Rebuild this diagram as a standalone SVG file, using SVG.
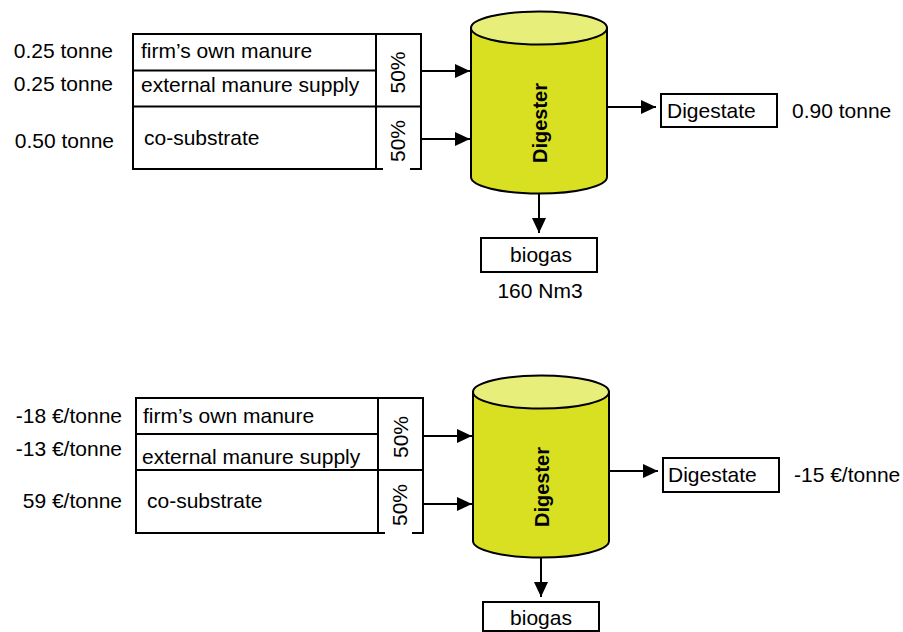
<svg xmlns="http://www.w3.org/2000/svg" width="903" height="632" viewBox="0 0 903 632">
<style>
.t{font-family:"Liberation Sans",Arial,sans-serif;font-size:21px;fill:#000}
.e{text-anchor:end}
.m{text-anchor:middle}
.b{fill:#fff;stroke:#000;stroke-width:2}
.ln{stroke:#000;stroke-width:2;fill:none}
.cb{fill:#D8E021;stroke:#000;stroke-width:2}
.ct{fill:#E8EE7A;stroke:#000;stroke-width:2}
.dg{font-family:"Liberation Sans",Arial,sans-serif;font-size:20px;font-weight:bold;text-anchor:middle;fill:#000}
.ar{stroke:#000;stroke-width:2;fill:none;marker-end:url(#ah)}
</style>
<defs>
<marker id="ah" markerUnits="userSpaceOnUse" markerWidth="16" markerHeight="15" refX="15" refY="7" orient="auto">
<path d="M0,0 L15,7 L0,14 z" fill="#000"/>
</marker>
</defs>
<rect width="903" height="632" fill="#fff"/>

<!-- TOP SECTION -->
<g id="inputs-top">
<rect class="b" x="133" y="34" width="288" height="135"/>
<line class="ln" x1="376" y1="34" x2="376" y2="169"/>
<line class="ln" x1="133" y1="70.5" x2="376" y2="70.5"/>
<line class="ln" x1="133" y1="106.5" x2="420" y2="106.5"/>
<rect x="383" y="112" width="27" height="58" fill="#fff"/>
<text class="t e" x="113" y="58">0.25 tonne</text>
<text class="t e" x="113" y="91">0.25 tonne</text>
<text class="t e" x="114" y="148">0.50 tonne</text>
<text class="t" x="141" y="58">firm’s own manure</text>
<text class="t" x="141" y="92">external manure supply</text>
<text class="t" x="144" y="145">co-substrate</text>
<text class="t m" transform="translate(405,72.5) rotate(-90)">50%</text>
<text class="t m" transform="translate(405,141) rotate(-90)">50%</text>
</g>
<g id="digester-top">
<path class="cb" d="M471,28 L471,177 A68,16.5 0 0 0 607,177 L607,28 Z"/>
<ellipse class="ct" cx="539" cy="28" rx="68" ry="16.5"/>
<text class="dg" transform="translate(547,123) rotate(-90)">Digester</text>
</g>
<g id="digestate-top">
<rect class="b" x="661" y="94" width="116" height="33"/>
<text class="t" x="667" y="118">Digestate</text>
<text class="t" x="792" y="118">0.90 tonne</text>
</g>
<g id="biogas-top">
<rect class="b" x="481" y="238" width="116" height="34"/>
<text class="t m" x="541" y="262">biogas</text>
<text class="t m" x="540" y="298">160 Nm3</text>
</g>

<!-- BOTTOM SECTION -->
<g id="inputs-bottom">
<rect class="b" x="136" y="398" width="287" height="135"/>
<line class="ln" x1="378" y1="398" x2="378" y2="533"/>
<line class="ln" x1="136" y1="434" x2="378" y2="434"/>
<line class="ln" x1="136" y1="470" x2="422" y2="470"/>
<rect x="385" y="476" width="27" height="58" fill="#fff"/>
<text class="t e" x="122" y="423">-18 €/tonne</text>
<text class="t e" x="122" y="456">-13 €/tonne</text>
<text class="t e" x="122" y="508">59 €/tonne</text>
<text class="t" x="143" y="423">firm’s own manure</text>
<text class="t" x="142" y="464">external manure supply</text>
<text class="t" x="147" y="508">co-substrate</text>
<text class="t m" transform="translate(408,437) rotate(-90)">50%</text>
<text class="t m" transform="translate(407,505) rotate(-90)">50%</text>
</g>
<g id="digester-bottom">
<path class="cb" d="M473,392 L473,541 A68,16.5 0 0 0 609,541 L609,392 Z"/>
<ellipse class="ct" cx="541" cy="392" rx="68" ry="16.5"/>
<text class="dg" transform="translate(549,487) rotate(-90)">Digester</text>
</g>
<g id="digestate-bottom">
<rect class="b" x="663" y="458" width="116" height="34"/>
<text class="t" x="668" y="482">Digestate</text>
<text class="t" x="794" y="482">-15 €/tonne</text>
</g>
<g id="biogas-bottom">
<rect class="b" x="483" y="602" width="116" height="29"/>
<text class="t m" x="541" y="625">biogas</text>
</g>

<g id="connectors">
<line class="ar" x1="421" y1="71" x2="470" y2="71"/>
<line class="ar" x1="421" y1="139" x2="470" y2="139"/>
<line class="ar" x1="607" y1="107" x2="656" y2="107"/>
<line class="ar" x1="539" y1="193" x2="539" y2="233"/>
<line class="ar" x1="423" y1="436" x2="472" y2="436"/>
<line class="ar" x1="423" y1="504" x2="472" y2="504"/>
<line class="ar" x1="609" y1="471" x2="658" y2="471"/>
<line class="ar" x1="541" y1="557" x2="541" y2="597"/>
</g>
</svg>
